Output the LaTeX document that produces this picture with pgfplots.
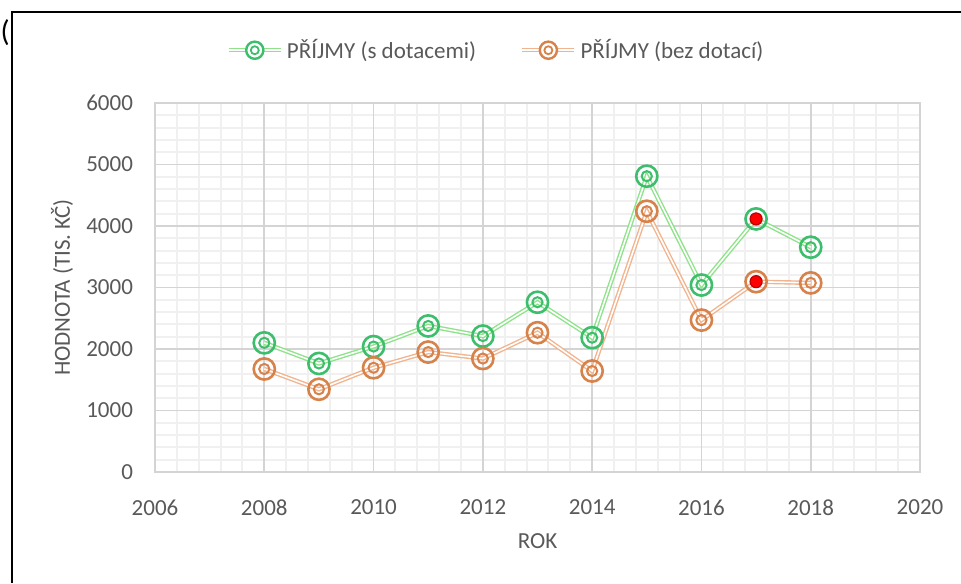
\documentclass[border=0pt]{standalone}
\usepackage{fontspec}
\setmainfont{Carlito}
\usepackage{pgfplots}
\pgfplotsset{compat=1.18}

\definecolor{txt}{HTML}{595959}
\definecolor{gmark}{HTML}{3DBE6C}
\definecolor{gline}{HTML}{8EE38A}
\definecolor{omark}{HTML}{D7824A}
\definecolor{oline}{HTML}{F1B48E}
\definecolor{majgrid}{HTML}{D4D4D4}
\definecolor{mingrid}{HTML}{F0F0F0}

% ring marker: outer and inner circle
\pgfdeclareplotmark{ring}{%
  \pgfpathcircle{\pgfpointorigin}{\pgfplotmarksize}\pgfusepathqstroke
  \begin{pgfscope}
  \pgfsetlinewidth{1pt}%
  \pgfpathcircle{\pgfpointorigin}{0.48\pgfplotmarksize}\pgfusepathqstroke
  \end{pgfscope}}

\tikzset{
  glinestyle/.style={draw=gline, line width=0.7pt, double=white, double distance=0.8pt},
  olinestyle/.style={draw=oline, line width=0.7pt, double=white, double distance=0.8pt},
}

\pgfplotstableread{
year s_dot bez_dot
2008 2100 1675
2009 1765 1345
2010 2040 1695
2011 2375 1950
2012 2210 1845
2013 2760 2265
2014 2184 1642
2015 4810 4240
2016 3040 2470
2017 4115 3095
2018 3655 3075
}\prijmy

\begin{document}
\begin{tikzpicture}
% 1 px of the reference = 0.5pt
\path[use as bounding box] (0pt,0pt) rectangle (480.5pt,291.5pt);
\draw[black, line width=1pt] (5.75pt,0pt) -- (5.75pt,285.25pt) -- (480.5pt,285.25pt);
\node[font=\rmfamily\fontsize{15}{17}\selectfont] at (2.6pt,275pt) {(};

\begin{axis}[
  at={(77.5pt,55.5pt)}, anchor=origin,
  scale only axis,
  width=382.5pt, height=184.5pt,
  xmin=2006, xmax=2020, ymin=0, ymax=6000,
  xtick={2006,2008,...,2020},
  ytick={0,1000,...,6000},
  minor x tick num=4, minor y tick num=4,
  extra x ticks={2008,2010,...,2018},
  extra x tick labels={},
  extra x tick style={grid=major, major grid style={draw=majgrid, line width=0.9pt}},
  major tick length=0pt, minor tick length=0pt,
  grid=both,
  major grid style={draw=majgrid, line width=0.9pt},
  minor grid style={draw=mingrid, line width=1pt},
  axis line style={draw=majgrid, line width=0.9pt},
  x tick label style={/pgf/number format/1000 sep={}},
  y tick label style={/pgf/number format/1000 sep={}},
  /pgf/number format/assume math mode=true,
  tick label style={font=\fontsize{11.5}{13}\selectfont, text=txt},
  xticklabel style={yshift=-10.5pt},
  yticklabel style={xshift=-7.5pt},
  xlabel={ROK},
  ylabel={HODNOTA (TIS. KČ)},
  label style={font=\fontsize{11.5}{13}\selectfont, text=txt},
  xlabel style={at={(axis description cs:0.5,-0.187)}, anchor=center},
  ylabel style={at={(axis description cs:-0.1216,0.5)}, anchor=center},
  legend columns=2,
  legend style={draw=none, fill=none, at={(0.447,1.143)}, anchor=center,
    font=\fontsize{11.5}{13}\selectfont, text=txt,
    /tikz/every even column/.append style={column sep=20pt}},
  clip=false,
]
\addlegendimage{legend image code/.code={
  \draw[glinestyle] (0pt,0pt) -- (26pt,0pt);
  \draw[gmark, line width=1.2pt, fill=white] (13pt,0pt) circle (4.3pt);
  \draw[gmark, line width=0.9pt] (13pt,0pt) circle (2pt);}}
\addlegendentry{PŘÍJMY (s dotacemi)}
\addlegendimage{legend image code/.code={
  \draw[olinestyle] (0pt,0pt) -- (26pt,0pt);
  \draw[omark, line width=1.2pt, fill=white] (13pt,0pt) circle (4.3pt);
  \draw[omark, line width=0.9pt] (13pt,0pt) circle (2pt);}}
\addlegendentry{PŘÍJMY (bez dotací)}

\addplot[glinestyle, no marks, forget plot] table[x=year, y=s_dot] {\prijmy};
\addplot[olinestyle, no marks, forget plot] table[x=year, y=bez_dot] {\prijmy};
\addplot[only marks, mark=ring, mark size=5.3pt,
  mark options={draw=gmark, line width=1.3pt, fill=none}, forget plot]
  table[x=year, y=s_dot] {\prijmy};
\addplot[only marks, mark=ring, mark size=5.3pt,
  mark options={draw=omark, line width=1.3pt, fill=none}, forget plot]
  table[x=year, y=bez_dot] {\prijmy};
% highlighted points
\addplot[only marks, mark=*, mark size=3pt,
  mark options={draw=red!75!black, fill=red, line width=0.6pt}, forget plot]
  coordinates {(2017,4115) (2017,3095)};
\end{axis}
\end{tikzpicture}
\end{document}
